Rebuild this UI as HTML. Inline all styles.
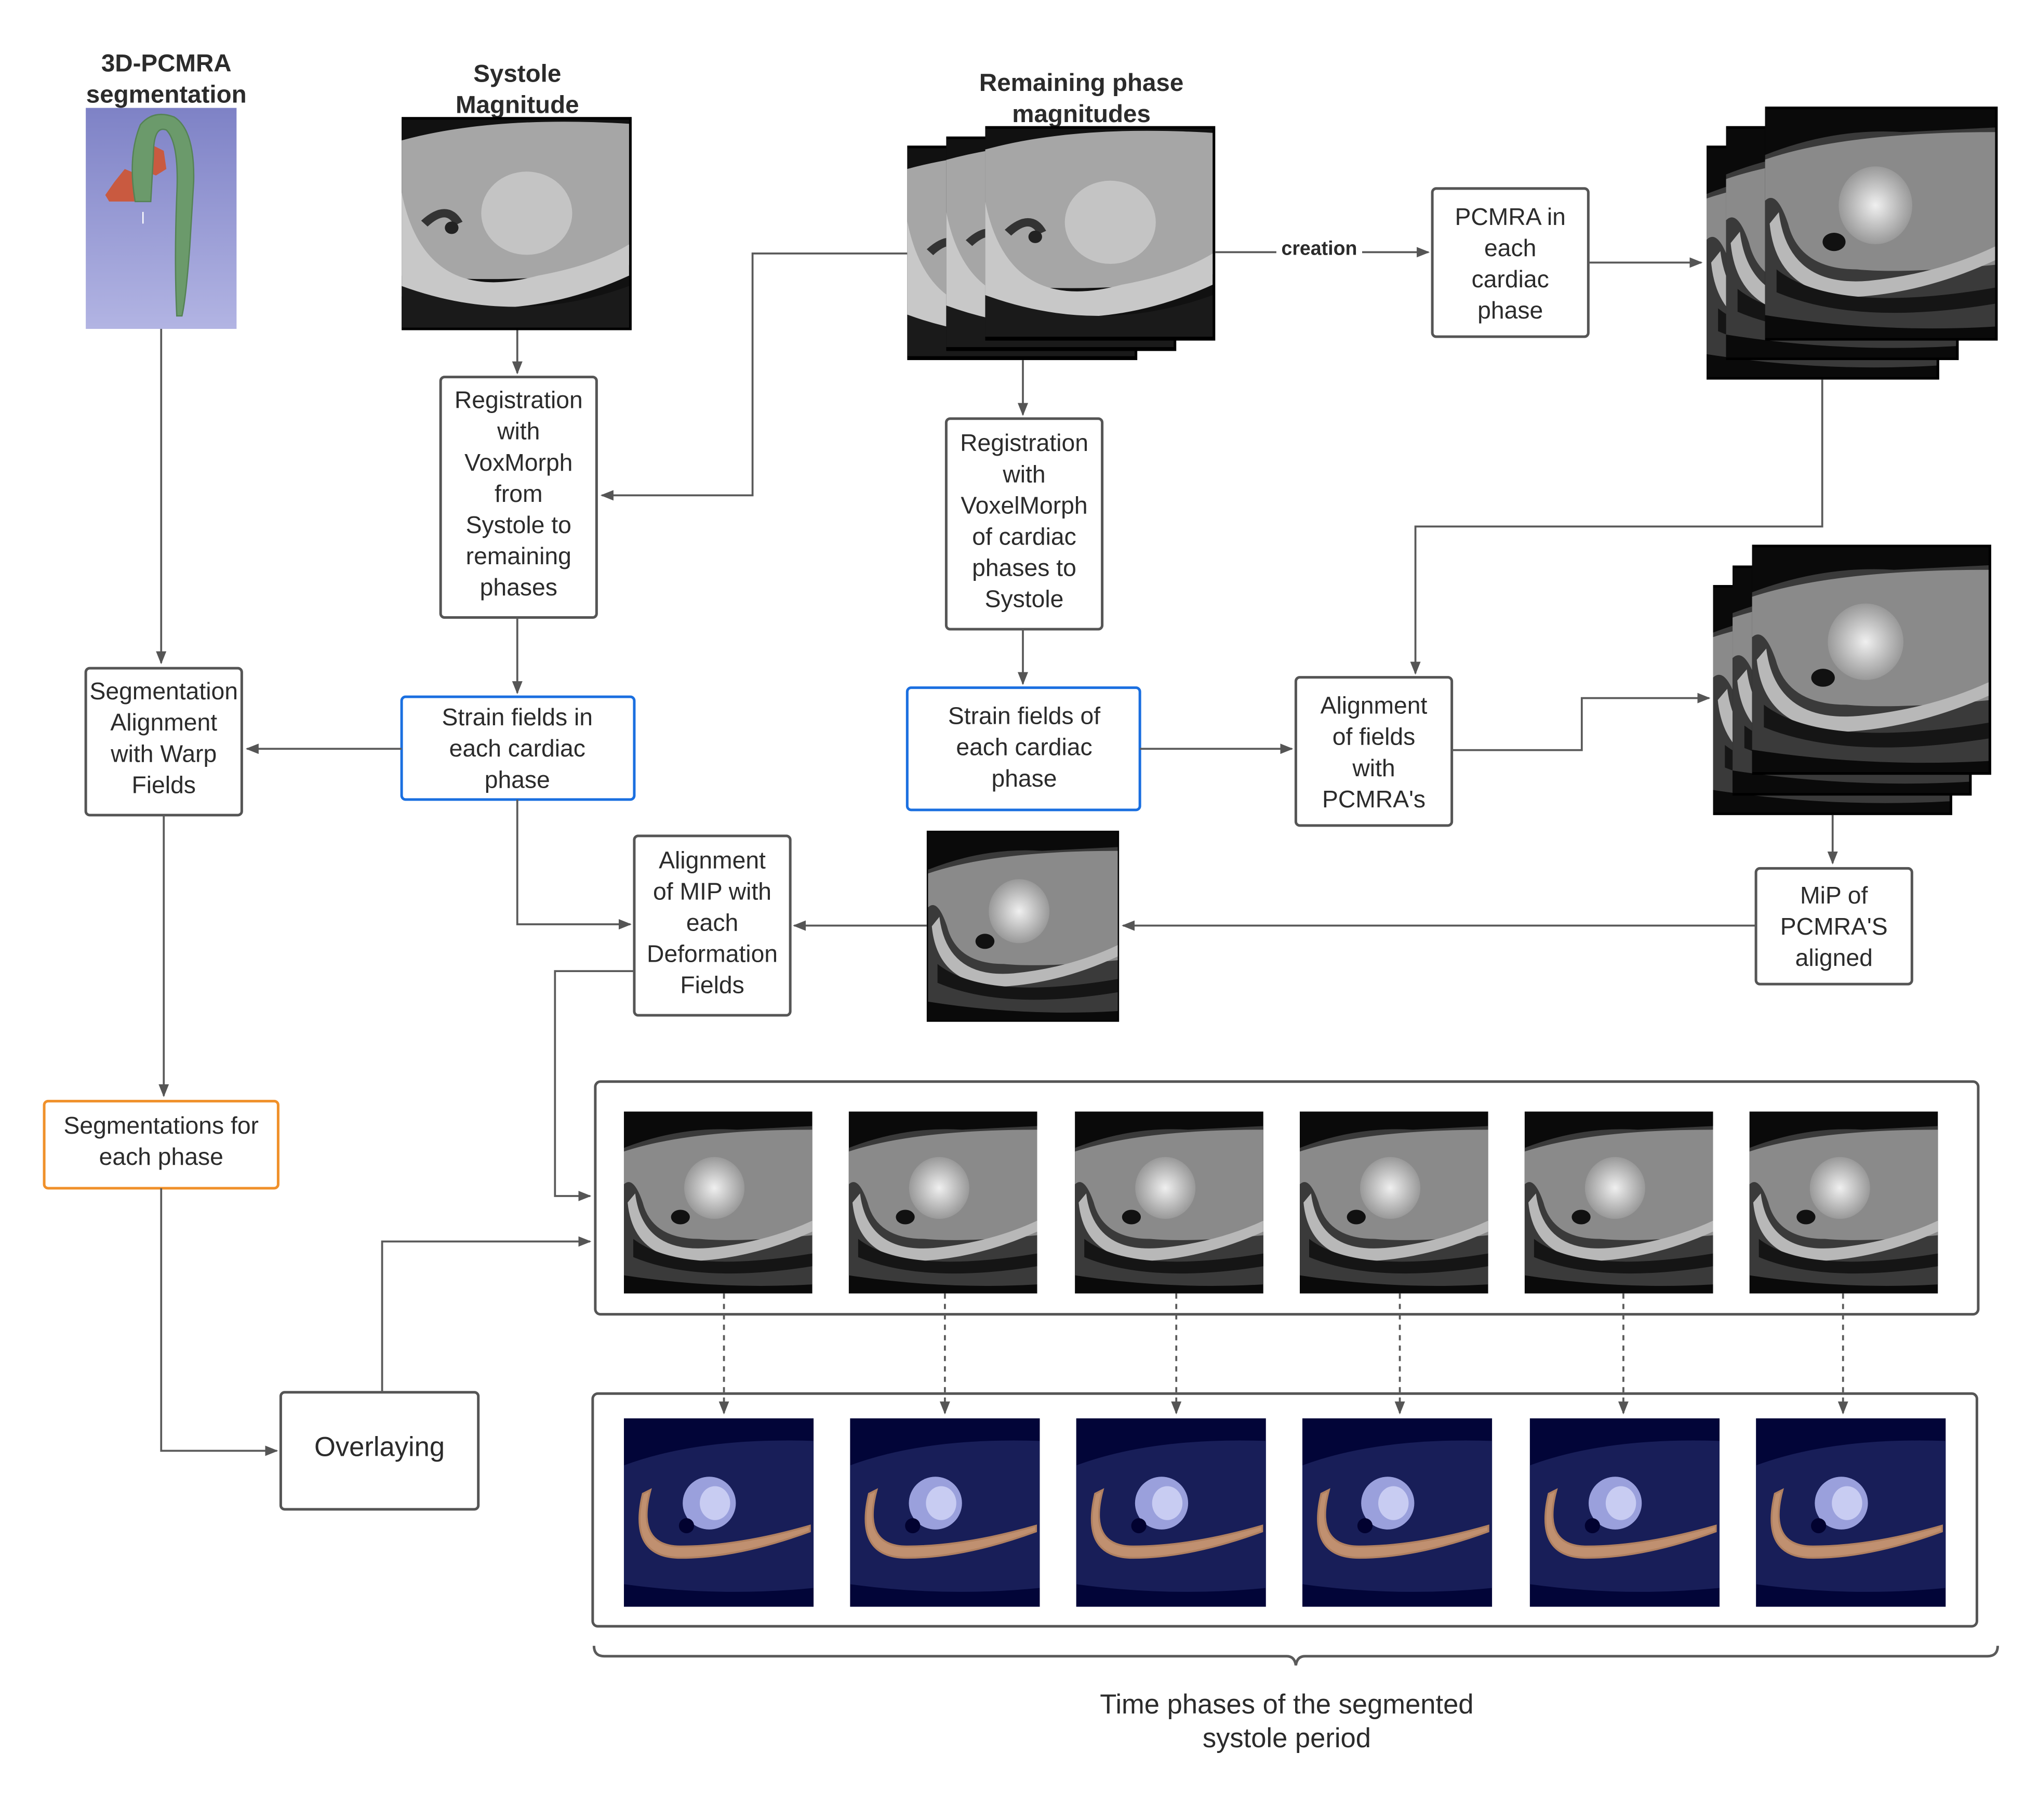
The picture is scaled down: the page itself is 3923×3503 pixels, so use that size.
<!DOCTYPE html>
<html><head><meta charset="utf-8"><style>
html,body{margin:0;padding:0;background:#fff}
svg{display:block}
text{font-family:"Liberation Sans",sans-serif;fill:#2b2b2b}
.b{font-size:18.5px;text-anchor:middle}
.t{font-size:19px;font-weight:bold;text-anchor:middle}
.box{fill:#fff;stroke:#555;stroke-width:2}
.ln{fill:none;stroke:#5a5a5a;stroke-width:1.5}
</style></head><body>
<svg width="3923" height="3503" viewBox="0 0 1568 1400" preserveAspectRatio="none" xmlns="http://www.w3.org/2000/svg">
<defs>
<marker id="a" markerWidth="10" markerHeight="8" refX="9" refY="4" orient="auto" markerUnits="userSpaceOnUse"><path d="M0,0L10,4L0,8z" fill="#555"/></marker>
<linearGradient id="bg" x1="0" y1="0" x2="0" y2="1"><stop offset="0" stop-color="#7e82c6"/><stop offset="1" stop-color="#b2b4e3"/></linearGradient>
<radialGradient id="hb" cx=".5" cy=".5" r=".5"><stop offset="0" stop-color="#f0f0f0"/><stop offset="1" stop-color="#999"/></radialGradient>
<symbol id="mri" viewBox="0 0 100 100" preserveAspectRatio="none">
<rect width="100" height="100" fill="#0a0a0a"/>
<path d="M0,20 Q30,8 60,10 L100,8 L100,95 Q50,98 0,90z" fill="#3a3a3a"/>
<path d="M0,22 Q35,10 100,10 L100,68 Q60,72 40,70 Q15,70 10,50 Q5,35 0,40z" fill="#8a8a8a"/>
<ellipse cx="48" cy="42" rx="16" ry="17" fill="url(#hb)"/>
<path d="M6,45 Q10,78 45,75 Q75,72 100,60 L100,66 Q70,80 40,82 Q5,82 2,50z" fill="#b8b8b8"/>
<path d="M5,70 Q30,90 100,78 L100,85 Q40,95 5,80z" fill="#151515"/>
<ellipse cx="30" cy="58" rx="5" ry="4" fill="#111"/>
</symbol>
<symbol id="mrig" viewBox="0 0 100 100" preserveAspectRatio="none">
<rect width="100" height="100" fill="#111"/>
<path d="M0,10 Q40,-2 100,2 L100,70 Q60,80 0,75z" fill="#a6a6a6"/>
<ellipse cx="55" cy="45" rx="20" ry="20" fill="#c4c4c4"/>
<path d="M0,35 Q10,90 60,75 Q85,70 100,60 L100,75 Q50,100 0,85z" fill="#c8c8c8"/>
<path d="M0,80 Q50,100 100,80 L100,100 L0,100z" fill="#1a1a1a"/>
<path d="M10,50 Q20,40 25,50" stroke="#333" stroke-width="4" fill="none"/>
<ellipse cx="22" cy="52" rx="3" ry="3" fill="#222"/>
</symbol>
<symbol id="seg" viewBox="0 0 100 100" preserveAspectRatio="none">
<rect width="100" height="100" fill="#020538"/>
<path d="M0,25 Q40,10 100,12 L100,90 Q50,95 0,88z" fill="#1e2460" opacity=".8"/>
<ellipse cx="45" cy="45" rx="14" ry="14" fill="#9aa0dc"/>
<ellipse cx="48" cy="45" rx="8" ry="9" fill="#c8ccf2"/>
<ellipse cx="33" cy="57" rx="4" ry="4" fill="#020230"/>
<path d="M14,38 Q6,68 30,68 Q60,68 98,57 L98,60 Q60,74 30,74 Q2,74 10,40z" fill="#c09070" stroke="#b08060" stroke-width="1"/>
</symbol>
</defs>

<text class="t" x="128" y="55">3D-PCMRA</text>
<text class="t" x="128" y="79">segmentation</text>
<text class="t" x="398" y="63">Systole</text>
<text class="t" x="398" y="87">Magnitude</text>
<text class="t" x="832" y="70">Remaining phase</text>
<text class="t" x="832" y="94">magnitudes</text>

<rect x="66" y="83" width="116" height="170" fill="url(#bg)"/>
<path d="M96,130 L88,140 L81,150 L84,155 L105,155 L108,135z" fill="#c95a40"/>
<path d="M112,118 L118,112 L126,116 L128,130 L120,135 L112,132z" fill="#c95a40"/>
<path d="M104,155 Q98,120 108,96 Q118,84 134,90 Q150,100 149,140 L146,190 Q143,230 140,243 L136,243 Q134,200 136,150 Q138,110 128,100 Q118,96 118,120 L116,155z" fill="#6b9a6b" stroke="#558255" stroke-width="1"/>
<line x1="110" y1="163" x2="110" y2="172" stroke="#fff" stroke-width="1"/>

<rect x="309" y="90" width="177" height="164" fill="#000"/>
<use href="#mrig" x="309" y="92" width="175" height="160"/>

<rect x="698" y="112" width="177" height="165" fill="#000"/><use href="#mrig" x="698" y="114" width="175" height="160"/>
<rect x="728" y="105" width="177" height="165" fill="#000"/><use href="#mrig" x="728" y="107" width="175" height="160"/>
<rect x="758" y="97" width="177" height="165" fill="#000"/><use href="#mrig" x="758" y="99" width="175" height="160"/>

<rect x="1313" y="112" width="179" height="180" fill="#000"/><use href="#mri" x="1313" y="114" width="177" height="176"/>
<rect x="1328" y="97" width="179" height="180" fill="#000"/><use href="#mri" x="1328" y="99" width="177" height="176"/>
<rect x="1358" y="82" width="179" height="180" fill="#000"/><use href="#mri" x="1358" y="84" width="177" height="176"/>

<rect x="1318" y="450" width="184" height="177" fill="#000"/><use href="#mri" x="1318" y="452" width="182" height="173"/>
<rect x="1333" y="435" width="184" height="177" fill="#000"/><use href="#mri" x="1333" y="437" width="182" height="173"/>
<rect x="1348" y="419" width="184" height="177" fill="#000"/><use href="#mri" x="1348" y="421" width="182" height="173"/>

<rect x="713" y="639" width="148" height="147" fill="#000"/><use href="#mri" x="714" y="640" width="146" height="145"/>

<rect class="box" x="339" y="290" width="120" height="185" rx="3"/>
<text class="b" x="399" y="314">Registration</text><text class="b" x="399" y="338">with</text><text class="b" x="399" y="362">VoxMorph</text><text class="b" x="399" y="386">from</text><text class="b" x="399" y="410">Systole to</text><text class="b" x="399" y="434">remaining</text><text class="b" x="399" y="458">phases</text>

<rect class="box" x="309" y="536" width="179" height="79" rx="3" style="stroke:#1a6fe0"/>
<text class="b" x="398" y="558">Strain fields in</text><text class="b" x="398" y="582">each cardiac</text><text class="b" x="398" y="606">phase</text>

<rect class="box" x="66" y="514" width="120" height="113" rx="3"/>
<text class="b" x="126" y="538">Segmentation</text><text class="b" x="126" y="562">Alignment</text><text class="b" x="126" y="586">with Warp</text><text class="b" x="126" y="610">Fields</text>

<rect class="box" x="34" y="847" width="180" height="67" rx="3" style="stroke:#f0902a"/>
<text class="b" x="124" y="872">Segmentations for</text><text class="b" x="124" y="896">each phase</text>

<rect class="box" x="216" y="1071" width="152" height="90" rx="3"/>
<text class="b" x="292" y="1120" style="font-size:21px">Overlaying</text>

<rect class="box" x="488" y="643" width="120" height="138" rx="3"/>
<text class="b" x="548" y="668">Alignment</text><text class="b" x="548" y="692">of MIP with</text><text class="b" x="548" y="716">each</text><text class="b" x="548" y="740">Deformation</text><text class="b" x="548" y="764">Fields</text>

<rect class="box" x="728" y="322" width="120" height="162" rx="3"/>
<text class="b" x="788" y="347">Registration</text><text class="b" x="788" y="371">with</text><text class="b" x="788" y="395">VoxelMorph</text><text class="b" x="788" y="419">of cardiac</text><text class="b" x="788" y="443">phases to</text><text class="b" x="788" y="467">Systole</text>

<rect class="box" x="698" y="529" width="179" height="94" rx="3" style="stroke:#1a6fe0"/>
<text class="b" x="788" y="557">Strain fields of</text><text class="b" x="788" y="581">each cardiac</text><text class="b" x="788" y="605">phase</text>

<rect class="box" x="1102" y="145" width="120" height="114" rx="3"/>
<text class="b" x="1162" y="173">PCMRA in</text><text class="b" x="1162" y="197">each</text><text class="b" x="1162" y="221">cardiac</text><text class="b" x="1162" y="245">phase</text>

<rect class="box" x="997" y="521" width="120" height="114" rx="3"/>
<text class="b" x="1057" y="549">Alignment</text><text class="b" x="1057" y="573">of fields</text><text class="b" x="1057" y="597">with</text><text class="b" x="1057" y="621">PCMRA's</text>

<rect class="box" x="1351" y="668" width="120" height="89" rx="3"/>
<text class="b" x="1411" y="695">MiP of</text><text class="b" x="1411" y="719">PCMRA'S</text><text class="b" x="1411" y="743">aligned</text>

<path class="ln" d="M124,253V510" marker-end="url(#a)"/>
<path class="ln" d="M398,254V287" marker-end="url(#a)"/>
<path class="ln" d="M398,475V533" marker-end="url(#a)"/>
<path class="ln" d="M309,576H190" marker-end="url(#a)"/>
<path class="ln" d="M126,627V843" marker-end="url(#a)"/>
<path class="ln" d="M124,914V1116H213" marker-end="url(#a)"/>
<path class="ln" d="M294,1071V955H454" marker-end="url(#a)"/>
<path class="ln" d="M398,615V711H485" marker-end="url(#a)"/>
<path class="ln" d="M488,747H427V920H454" marker-end="url(#a)"/>
<path class="ln" d="M698,195H579V381H463" marker-end="url(#a)"/>
<path class="ln" d="M787,277V319" marker-end="url(#a)"/>
<path class="ln" d="M787,484V526" marker-end="url(#a)"/>
<path class="ln" d="M877,576H994" marker-end="url(#a)"/>
<path class="ln" d="M935,194H1099" marker-end="url(#a)"/>
<rect x="982" y="180" width="66" height="18" fill="#fff"/>
<text x="1015" y="196" style="font-size:15px;font-weight:bold;text-anchor:middle">creation</text>
<path class="ln" d="M1222,202H1309" marker-end="url(#a)"/>
<path class="ln" d="M1402,292V405H1089V518" marker-end="url(#a)"/>
<path class="ln" d="M1117,577H1217V537H1315" marker-end="url(#a)"/>
<path class="ln" d="M1410,627V664" marker-end="url(#a)"/>
<path class="ln" d="M1351,712H864" marker-end="url(#a)"/>
<path class="ln" d="M713,712H611" marker-end="url(#a)"/>

<rect x="458" y="832" width="1064" height="179" rx="4" fill="none" stroke="#555" stroke-width="2"/>
<rect x="456" y="1072" width="1065" height="179" rx="4" fill="none" stroke="#555" stroke-width="2"/>
<g>
<use href="#mri" x="480" y="855" width="145" height="140"/>
<use href="#mri" x="653" y="855" width="145" height="140"/>
<use href="#mri" x="827" y="855" width="145" height="140"/>
<use href="#mri" x="1000" y="855" width="145" height="140"/>
<use href="#mri" x="1173" y="855" width="145" height="140"/>
<use href="#mri" x="1346" y="855" width="145" height="140"/>
</g>
<g>
<use href="#seg" x="480" y="1091" width="146" height="145"/>
<use href="#seg" x="654" y="1091" width="146" height="145"/>
<use href="#seg" x="828" y="1091" width="146" height="145"/>
<use href="#seg" x="1002" y="1091" width="146" height="145"/>
<use href="#seg" x="1177" y="1091" width="146" height="145"/>
<use href="#seg" x="1351" y="1091" width="146" height="145"/>
</g>
<g class="ln" style="stroke-dasharray:4,4">
<path d="M557,995V1087" marker-end="url(#a)"/>
<path d="M727,995V1087" marker-end="url(#a)"/>
<path d="M905,995V1087" marker-end="url(#a)"/>
<path d="M1077,995V1087" marker-end="url(#a)"/>
<path d="M1249,995V1087" marker-end="url(#a)"/>
<path d="M1418,995V1087" marker-end="url(#a)"/>
</g>

<path class="ln" d="M457,1266Q457,1274 465,1274H990Q996,1274 997,1281Q998,1274 1004,1274H1529Q1537,1274 1537,1266" style="stroke-width:2"/>
<text x="990" y="1318" style="font-size:21px;text-anchor:middle">Time phases of the segmented</text>
<text x="990" y="1344" style="font-size:21px;text-anchor:middle">systole period</text>
</svg>
</body></html>
